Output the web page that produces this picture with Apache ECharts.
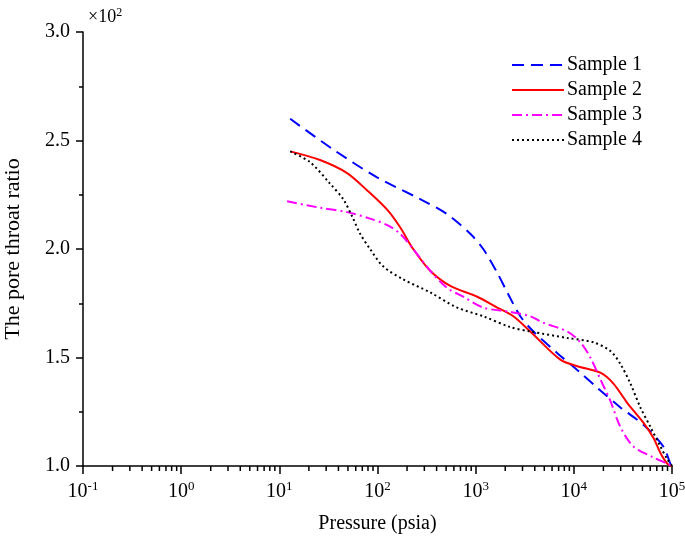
<!DOCTYPE html>
<html>
<head>
<meta charset="utf-8">
<script src="https://cdn.jsdelivr.net/npm/echarts@6/dist/echarts.min.js"></script>
<style>html,body{margin:0;padding:0;background:#fff}#c{width:685px;height:546px}</style>
</head>
<body>
<div id="c"></div>
<script>
// Pressure (psia) and pore throat ratio values
const s1P = [12.9, 35, 99, 272, 514, 881, 1195, 1660, 2100, 2850, 3870, 6790, 11650, 17380, 29800, 51100, 81700, 96300, 100000];
const s1V = [260, 246, 233, 223, 216, 207, 200, 189, 180, 169, 162, 152, 143, 136, 127, 119, 109, 101, 100];
const s2P = [12.9, 26, 49, 78.5, 126, 170, 231, 344, 551, 1038, 1660, 2416, 3600, 7280, 10860, 18620, 25300, 35100, 51100, 64600, 76200, 89800, 100000];
const s2V = [245, 241, 235, 227, 218, 210, 200, 190, 183, 178, 173, 169, 162, 149, 146, 143, 138, 129, 120, 113, 106, 101, 100];
const s3P = [12, 26, 49, 84, 126, 170, 231, 344, 514, 748, 1195, 2250, 3600, 4890, 8590, 11650, 14720, 18620, 23550, 29800, 40400, 64600, 89800, 100000];
const s3V = [222, 219, 217, 214, 211, 207, 200, 190, 182, 178, 173, 171, 169, 166, 162, 157, 150, 140, 130, 118, 109, 104, 101, 100];
const s4P = [12.9, 20.6, 33, 44.7, 55.2, 66.6, 84, 114, 183, 344, 649, 1195, 2250, 3600, 8590, 15800, 23550, 29800, 37700, 47600, 60300, 76200, 89800, 100000];
const s4V = [245, 240, 230, 223, 215, 207, 200, 192, 186, 180, 173, 169, 164, 162, 159, 157, 153, 147, 138, 127, 118, 109, 103, 100];
const seriesNames = ['Sample 1', 'Sample 2', 'Sample 3', 'Sample 4'];

const zip = (a, b) => a.map((v, i) => [v, b[i]]);
const minorTicks = [];
for (let e = -1; e < 5; e++) for (let k = 2; k <= 9; k++) minorTicks.push(k * Math.pow(10, e));

const FONT = '"Liberation Serif","Times New Roman",serif';
const chart = echarts.init(document.getElementById('c'));
const lineBase = { type: 'line', symbol: 'none', showSymbol: false, smooth: 0.3, z: 3 };
chart.setOption({
  animation: false,
  textStyle: { fontFamily: FONT, color: '#000' },
  grid: { left: 83, right: 13, top: 32, bottom: 80, containLabel: false, outerBoundsMode: 'none' },
  legend: {
    data: seriesNames, orient: 'vertical', left: 506, top: 50,
    itemWidth: 52, itemHeight: 14, itemGap: 5,
    itemStyle: { opacity: 0 },
    textStyle: { fontFamily: FONT, fontSize: 20, color: '#000', padding: [0, 0, 0, -2] }
  },
  graphic: [{
    type: 'text', left: 88, top: 7,
    style: { text: '×10{s|2}', fontFamily: FONT, fontSize: 18, fill: '#000',
      rich: { s: { fontSize: 12, verticalAlign: 'top', fontFamily: FONT, padding: [0, 0, 8, 0] } } }
  }],
  xAxis: {
    type: 'log', logBase: 10, min: 0.1, max: 100000,
    name: 'Pressure (psia)', nameLocation: 'middle', nameGap: 48,
    nameTextStyle: { fontFamily: FONT, fontSize: 20, color: '#000' },
    axisLine: { onZero: false, lineStyle: { color: '#000', width: 1.5 } },
    axisTick: { show: true, length: 8, lineStyle: { color: '#000', width: 1.5 } },
    splitLine: { show: false },
    axisLabel: {
      margin: 14, showMaxLabel: true, showMinLabel: true, color: '#000',
      formatter: v => '{b|10}{s|' + Math.round(Math.log10(v)) + '}',
      rich: {
        b: { fontFamily: FONT, fontSize: 20, color: '#000' },
        s: { fontFamily: FONT, fontSize: 13, color: '#000', verticalAlign: 'top', padding: [0, 0, 10, 0] }
      }
    }
  },
  yAxis: {
    type: 'value', min: 100, max: 300, interval: 50,
    name: 'The pore throat ratio', nameLocation: 'middle', nameGap: 59,
    nameTextStyle: { fontFamily: FONT, fontSize: 22, color: '#000' },
    axisLine: { show: true, lineStyle: { color: '#000', width: 1.5 } },
    axisTick: { show: true, length: 7, lineStyle: { color: '#000', width: 1.5 } },
    minorTick: { show: true, splitNumber: 2, length: 4, lineStyle: { color: '#000', width: 1.5 } },
    splitLine: { show: false },
    axisLabel: { margin: 13, color: '#000', fontFamily: FONT, fontSize: 20, formatter: v => (v / 100).toFixed(1) }
  },
  series: [
    Object.assign({}, lineBase, { name: 'Sample 1', data: zip(s1P, s1V), color: '#0000FF',
      lineStyle: { color: '#0000FF', width: 2, type: [12, 7] } }),
    Object.assign({}, lineBase, { name: 'Sample 2', data: zip(s2P, s2V), color: '#FF0000',
      lineStyle: { color: '#FF0000', width: 2, type: 'solid' } }),
    Object.assign({}, lineBase, { name: 'Sample 3', data: zip(s3P, s3V), color: '#FF00FF',
      lineStyle: { color: '#FF00FF', width: 2, type: [10, 4, 2, 4] } }),
    Object.assign({}, lineBase, { name: 'Sample 4', data: zip(s4P, s4V), color: '#000000',
      lineStyle: { color: '#000000', width: 2, type: [2, 3] } }),
    {
      type: 'custom', name: 'minorTicks', silent: true, clip: false, z: 4,
      data: minorTicks.map(v => [v, 100]),
      renderItem: (params, api) => {
        const p = api.coord([api.value(0), 100]);
        return { type: 'line', shape: { x1: p[0], y1: p[1], x2: p[0], y2: p[1] + 5 },
          style: { stroke: '#000', lineWidth: 1.5 } };
      }
    }
  ]
});
</script>
</body>
</html>
